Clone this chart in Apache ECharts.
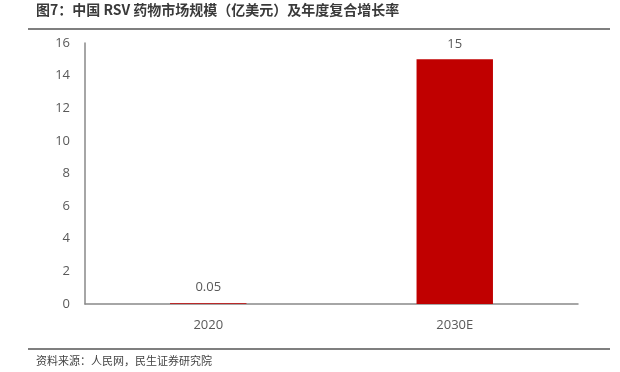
<!DOCTYPE html>
<html><head><meta charset="utf-8">
<script src="https://cdn.jsdelivr.net/npm/echarts@6/dist/echarts.min.js"></script>
<style>html,body{margin:0;padding:0;background:#fff}#c{width:620px;height:372px}</style>
</head><body><div id="c"></div>
<script>
var categories = ['2020', '2030E'];
var values = [0.05, 15];
var yTicks = {min: 0, max: 16, interval: 2};
var titleText = '图7：中国 RSV 药物市场规模（亿美元）及年度复合增长率';
var sourceText = '资料来源：人民网，民生证券研究院';

var chart = echarts.init(document.getElementById('c'));
var font = '"Noto Sans CJK SC", "Open Sans", sans-serif';
chart.setOption({
  animation: false,
  textStyle: {fontFamily: font},
  grid: {left: 85, right: 42, top: 43, bottom: 68, containLabel: false},
  graphic: [
    {type: 'text', left: 36, top: 3, style: {text: titleText, font: 'bold 14px ' + font, fill: '#3a3a3a'}},
    {type: 'line', shape: {x1: 28, y1: 29, x2: 610, y2: 29}, style: {stroke: '#555', lineWidth: 1.5}},
    {type: 'line', shape: {x1: 28, y1: 349, x2: 610, y2: 349}, style: {stroke: '#555', lineWidth: 1.5}},
    {type: 'text', left: 36, top: 355, style: {text: sourceText, font: '11px ' + font, fill: '#444'}}
  ],
  xAxis: {
    type: 'category', data: categories,
    axisLine: {lineStyle: {color: '#898989', width: 1.5}},
    axisTick: {show: false},
    axisLabel: {color: '#595959', fontSize: 13, margin: 15, fontFamily: '"Open Sans", sans-serif'}
  },
  yAxis: {
    type: 'value', min: yTicks.min, max: yTicks.max, interval: yTicks.interval,
    axisLine: {show: true, lineStyle: {color: '#898989', width: 1.5}},
    axisTick: {show: false},
    splitLine: {show: false},
    axisLabel: {color: '#595959', fontSize: 13, margin: 15, fontFamily: '"Open Sans", sans-serif'}
  },
  series: [{
    type: 'bar', data: values, barWidth: '31%',
    itemStyle: {color: '#C00000'},
    label: {show: true, position: 'top', distance: 9, color: '#595959', fontSize: 13, fontFamily: '"Open Sans", sans-serif'}
  }]
});
</script></body></html>
